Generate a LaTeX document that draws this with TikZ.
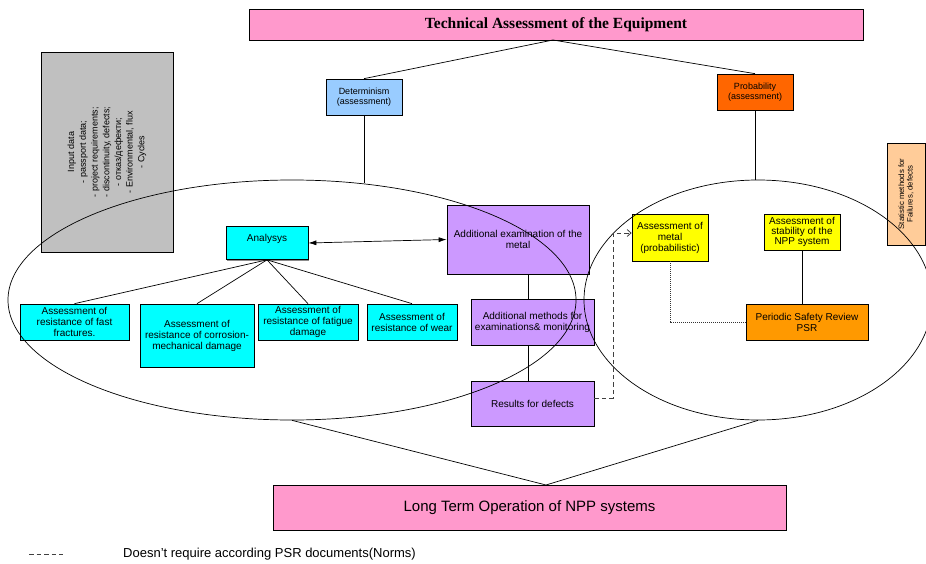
\documentclass[tikz,border=0pt]{standalone}
\usepackage{fontspec}
\setmainfont{Liberation Sans}
\newfontfamily\serifbold{Liberation Serif}
\usetikzlibrary{shapes.geometric,arrows.meta,shadows}
\definecolor{pinkc}{HTML}{FF99CC}
\definecolor{bluec}{HTML}{99CCFF}
\definecolor{orangec}{HTML}{FF6600}
\definecolor{grayc}{HTML}{C0C0C0}
\definecolor{peachc}{HTML}{FFCC99}
\definecolor{cyanc}{HTML}{00FFFF}
\definecolor{purplec}{HTML}{CC99FF}
\definecolor{yellowc}{HTML}{FFFF00}
\definecolor{amberc}{HTML}{FF9900}
\begin{document}
\begin{tikzpicture}[x=1pt,y=-1pt,
  box/.style={draw=black, line width=0.7pt, rectangle, inner sep=0pt, align=center,
    font=\fontsize{10}{11}\selectfont,
    drop shadow={shadow xshift=1.2pt, shadow yshift=-1.2pt, fill=black!45, opacity=1}},
  conn/.style={draw=black, line width=0.7pt},
  ring/.style={draw=black, line width=0.7pt, ellipse, inner sep=0pt},
  dsh/.style={draw=black!75, line width=0.8pt, dash pattern=on 4.5pt off 3pt},
  dtt/.style={draw=black!80, line width=0.8pt, dash pattern=on 1pt off 1pt}]
\useasboundingbox (0,0) rectangle (926,564);

% boxes
\node[box, fill=pinkc, minimum width=614pt, minimum height=31pt, font=\serifbold\bfseries\fontsize{15.5}{17}\selectfont] (title) at (556,24.5) {Technical Assessment of the Equipment};
\node[box, fill=bluec, minimum width=76pt, minimum height=36pt, font=\fontsize{9}{10}\selectfont] (det) at (364,97) {Determinism\\(assessment)};
\node[box, fill=orangec, minimum width=76pt, minimum height=36pt, font=\fontsize{9}{10}\selectfont] (prob) at (755,92) {Probability\\(assessment)};
\node[box, fill=grayc, rotate=90, minimum width=200pt, minimum height=132pt, font=\fontsize{9}{11.7}\selectfont] (inp) at (107,152) {Input data\\- passport data;\\- project requirements;\\- discontinuity, defects;\\- отказ/дефекти;\\- Environmental, flux\\- Cycles};
\node[box, fill=peachc, rotate=90, minimum width=102pt, minimum height=38pt, font=\fontsize{7.8}{8.6}\selectfont] (stat) at (906,194) {Statistic methods for\\Failures, defects};

\node[box, fill=cyanc, minimum width=82pt, minimum height=33pt] (ana) at (267,243) {\raisebox{1.5pt}[0pt][0pt]{Analysys}};
\node[box, fill=cyanc, minimum width=109pt, minimum height=36pt] (a1) at (74.5,322) {Assessment of\\resistance of fast\\fractures.};
\node[box, fill=cyanc, minimum width=114pt, minimum height=63pt] (a2) at (197,335.5) {Assessment of\\resistance of corrosion-\\mechanical damage};
\node[box, fill=cyanc, minimum width=100pt, minimum height=36pt] (a3) at (308,322) {Assessment of\\resistance of fatigue\\damage};
\node[box, fill=cyanc, minimum width=90pt, minimum height=36pt] (a4) at (412,322) {Assessment of\\resistance of wear};

\node[box, fill=purplec, minimum width=142pt, minimum height=69pt] (exam) at (518,239.5) {Additional examination of the\\metal};
\node[box, fill=purplec, minimum width=123pt, minimum height=46pt] (meth) at (532.5,322) {Additional methods for\\examinations\& monitoring};
\node[box, fill=purplec, minimum width=123pt, minimum height=45pt] (res) at (532.5,403.5) {Results for defects};

\node[box, fill=yellowc, minimum width=76pt, minimum height=47pt] (metal) at (670,237.5) {Assessment of\\metal\\(probabilistic)};
\node[box, fill=yellowc, minimum width=76pt, minimum height=36pt] (stab) at (802,232) {\raisebox{-2pt}{\begin{tabular}{@{}c@{}}Assessment of\\[-1pt]stability of the\\[-1pt]NPP system\end{tabular}}};
\node[box, fill=amberc, minimum width=122pt, minimum height=36pt] (psr) at (807,322) {Periodic Safety Review\\PSR};

\node[box, fill=pinkc, minimum width=513pt, minimum height=45pt, font=\fontsize{15}{17}\selectfont] (lto) at (529.5,507.5) {Long Term Operation of NPP systems};

% ellipses
\node[ring, minimum width=568pt, minimum height=240pt] (lell) at (292,300) {};
\node[ring, minimum width=348pt, minimum height=240pt] (rell) at (758,300) {};

% coordinates
\coordinate (tap) at (553,40);
\coordinate (lap) at (546,485);
\coordinate (dend) at (364,183);
\coordinate (dk) at (613,233);

% connectors
\draw[conn] (det.north) -- (tap) -- (prob.north);
\draw[conn] (det.south) -- (dend);
\draw[conn] (prob.south) -- (prob.south |- rell.north);
\draw[conn] (lell.south) -- (lap) -- (rell.south);
\draw[conn] (ana.south) -- (a1.north);
\draw[conn] (ana.south) -- (a2.north);
\draw[conn] (ana.south) -- (a3.north);
\draw[conn] (ana.south) -- (a4.north);
\draw[conn, {Latex[length=8pt,width=5pt]}-{Latex[length=8pt,width=5pt]}] (ana.east) -- (exam.west);
\draw[conn] ([xshift=-4.5pt]meth.north) -- ([xshift=-4.5pt]meth.north |- exam.south);
\draw[conn] ([xshift=-4.5pt]meth.south) -- ([xshift=-4.5pt]meth.south |- res.north);
\draw[conn] (stab.south) -- (stab.south |- psr.north);
\draw[dtt] (metal.south) |- (psr.west);
\draw[dsh, -{Straight Barb[length=4pt,width=7pt]}] ([yshift=5.5pt]res.east) -| (dk) -- (dk -| metal.west);

% legend
\coordinate (l1) at (29,554);
\coordinate (l2) at (63,554);
\draw[dsh] (l1) -- (l2);
\node[anchor=west, inner sep=0pt, font=\fontsize{13}{15}\selectfont] (legtxt) at (123,554) {Doesn’t require according PSR documents(Norms)};
\end{tikzpicture}
\end{document}
